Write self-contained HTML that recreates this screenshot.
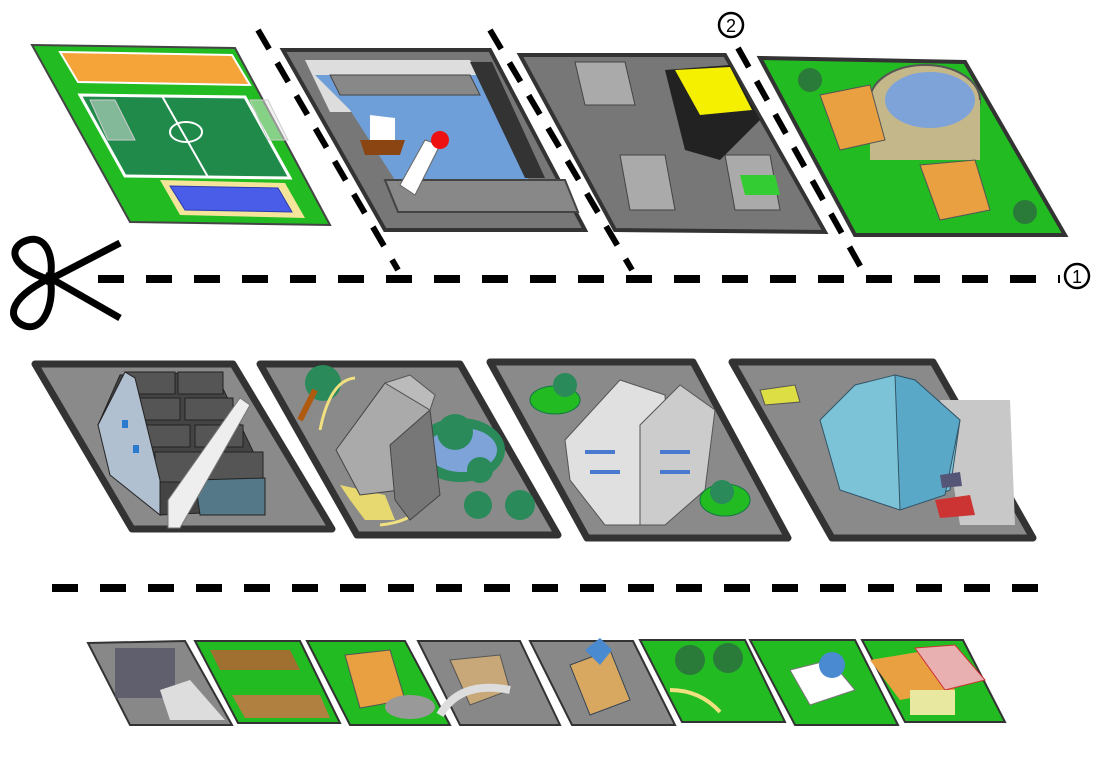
<!DOCTYPE html>
<html><head><meta charset="utf-8"><style>
html,body{margin:0;padding:0;background:#fff;}
svg{display:block}
</style></head><body>
<svg width="1100" height="765" viewBox="0 0 1100 765" xmlns="http://www.w3.org/2000/svg" font-family="Liberation Sans, sans-serif">
<!-- ===== TOP ROW ===== -->
<polygon points="32,45 235,48 330,225 130,222" fill="#22bb22" stroke="#444" stroke-width="2"/>
<polygon points="60,52 232,55 250,85 78,82" fill="#f5a43a" stroke="#fff" stroke-width="2"/>
<polygon points="80,95 245,97 290,178 125,176" fill="#1f8a4a" stroke="#fff" stroke-width="3"/>
<line x1="162" y1="96" x2="208" y2="177" stroke="#fff" stroke-width="2"/>
<ellipse cx="186" cy="132" rx="16" ry="10" fill="none" stroke="#fff" stroke-width="2"/>
<polygon points="90,100 115,100 135,140 108,140" fill="#e8e8e8" fill-opacity=".5" stroke="#ccc"/>
<polygon points="250,100 268,100 288,140 268,140" fill="#e8e8e8" fill-opacity=".5" stroke="#ccc"/>
<polygon points="160,180 285,183 305,218 180,215" fill="#f5e59a"/>
<polygon points="170,186 278,188 292,212 185,210" fill="#4a5de8" stroke="#2a3ab0"/>
<!-- tile 2 port -->
<polygon points="283,50 490,50 585,230 385,230" fill="#777" stroke="#333" stroke-width="4"/>
<polygon points="305,60 470,60 500,112 330,112" fill="#ddd"/>
<polygon points="315,75 480,75 520,150 530,185 420,185 395,180 350,110" fill="#6f9fd8"/>
<polygon points="330,75 470,75 480,95 340,95" fill="#888" stroke="#444"/>
<polygon points="385,180 565,180 578,212 398,212" fill="#888" stroke="#444" stroke-width="2"/>
<polygon points="470,62 492,62 545,178 525,178" fill="#333"/>
<polygon points="360,140 405,140 400,155 365,155" fill="#8b4513"/>
<polygon points="370,115 395,118 395,140 370,140" fill="#fff"/>
<polygon points="400,185 425,140 440,145 415,195" fill="#fff" stroke="#666"/>
<circle cx="440" cy="140" r="9" fill="#e11"/>
<!-- tile 3 recycling -->
<polygon points="520,55 725,55 825,232 615,230" fill="#777" stroke="#333" stroke-width="4"/>
<polygon points="575,62 625,62 635,105 585,105" fill="#aaa" stroke="#444"/>
<polygon points="620,155 665,155 675,210 630,210" fill="#aaa" stroke="#444"/>
<polygon points="725,155 770,155 780,210 735,210" fill="#aaa" stroke="#444"/>
<polygon points="740,175 775,175 780,195 745,195" fill="#3c3"/>
<polygon points="665,70 730,65 760,120 720,160 685,150" fill="#222"/>
<polygon points="675,70 730,67 752,110 700,115" fill="#f4f000"/>
<!-- tile 4 -->
<polygon points="760,58 965,62 1065,235 855,235" fill="#22bb22" stroke="#333" stroke-width="4"/>
<ellipse cx="925" cy="100" rx="55" ry="35" fill="#c4b88a" stroke="#555" stroke-width="2"/>
<rect x="870" y="100" width="110" height="60" fill="#c4b88a"/>
<ellipse cx="930" cy="100" rx="45" ry="28" fill="#7ea3d8"/>
<polygon points="820,95 870,85 885,140 840,150" fill="#e8a040" stroke="#555"/>
<polygon points="920,165 975,160 990,210 940,220" fill="#e8a040" stroke="#555"/>
<circle cx="810" cy="80" r="12" fill="#2a7a3a"/>
<circle cx="1025" cy="212" r="12" fill="#2a7a3a"/>

<g stroke="#000" stroke-width="6" stroke-dasharray="22,16" fill="none">
<line x1="258" y1="30" x2="398" y2="270"/>
<line x1="490" y1="30" x2="632" y2="270"/>
<line x1="738" y1="48" x2="868" y2="280"/>
</g>
<line x1="98" y1="279" x2="1060" y2="279" stroke="#000" stroke-width="8" stroke-dasharray="26,22"/>
<circle cx="1077" cy="276" r="12" fill="#fff" stroke="#000" stroke-width="2.5"/>
<text x="1077" y="283" font-size="18" text-anchor="middle">1</text>
<circle cx="731" cy="25" r="12" fill="#fff" stroke="#000" stroke-width="2.5"/>
<text x="731" y="32" font-size="18" text-anchor="middle">2</text>
<g stroke="#000" stroke-width="7" fill="none">
<line x1="45" y1="282" x2="120" y2="243"/>
<line x1="45" y1="275" x2="120" y2="318"/>
<path d="M50,280 C55,255 45,235 28,240 C10,245 5,265 50,280"/>
<path d="M50,278 C55,300 45,332 25,326 C8,320 5,300 50,278"/>
</g>

<!-- ===== MIDDLE ROW ===== -->
<g stroke="#333" stroke-width="7" fill="#8a8a8a" stroke-linejoin="round">
<polygon points="35,364 233,364 332,529 132,529"/>
<polygon points="260,364 460,364 558,535 357,535"/>
<polygon points="490,362 693,362 788,538 587,538"/>
<polygon points="732,362 933,362 1033,538 832,538"/>
</g>
<!-- A factory -->
<polygon points="120,375 215,372 262,470 265,510 160,515 98,425" fill="#444" stroke="#222"/>
<g fill="#555" stroke="#222">
<rect x="125" y="372" width="50" height="22"/><rect x="178" y="372" width="45" height="22"/>
<rect x="132" y="398" width="48" height="22"/><rect x="185" y="398" width="48" height="22"/>
<rect x="142" y="425" width="48" height="22"/><rect x="195" y="425" width="48" height="22"/>
<rect x="155" y="452" width="48" height="30"/><rect x="205" y="452" width="58" height="30"/>
</g>
<polygon points="98,425 125,372 135,378 160,480 160,515 110,475" fill="#b0c0d0" stroke="#222"/>
<rect x="122" y="420" width="6" height="8" fill="#2a7ad0"/><rect x="133" y="445" width="6" height="8" fill="#2a7ad0"/>
<polygon points="195,480 265,478 265,515 200,515" fill="#557888" stroke="#222"/>
<polygon points="168,500 240,398 250,405 180,528 168,528" fill="#eee" stroke="#777"/>
<!-- B -->
<circle cx="323" cy="383" r="18" fill="#2a8a5a"/>
<path d="M300,420 L315,390" stroke="#b05a10" stroke-width="6"/>
<ellipse cx="460" cy="450" rx="45" ry="32" fill="#2a8a5a"/>
<ellipse cx="462" cy="450" rx="35" ry="22" fill="#7ea3d8"/>
<circle cx="455" cy="432" r="18" fill="#2a8a5a"/>
<circle cx="480" cy="470" r="13" fill="#2a8a5a"/>
<circle cx="520" cy="505" r="15" fill="#2a8a5a"/>
<circle cx="478" cy="505" r="14" fill="#2a8a5a"/>
<path d="M320,430 Q330,380 355,378 M430,480 Q430,520 380,525" stroke="#f0e080" stroke-width="3" fill="none"/>
<polygon points="340,485 350,500 365,520 395,520 385,495" fill="#e8d870"/>
<polygon points="336,450 385,383 430,410 400,490 360,495" fill="#aaa" stroke="#444"/>
<polygon points="390,445 430,410 440,495 410,520 395,500" fill="#777" stroke="#444"/>
<polygon points="385,383 410,375 435,395 430,410" fill="#bbb" stroke="#555"/>
<!-- C -->
<ellipse cx="555" cy="400" rx="25" ry="14" fill="#22bb22" stroke="#174"/>
<circle cx="565" cy="385" r="12" fill="#2a8a5a"/>
<polygon points="565,440 620,380 665,395 670,485 640,525 605,525 570,480" fill="#e0e0e0" stroke="#555"/>
<polygon points="640,425 680,385 715,410 705,490 665,525 640,525" fill="#ccc" stroke="#555"/>
<g fill="#4a7ad0"><rect x="585" y="450" width="30" height="4"/><rect x="590" y="470" width="30" height="4"/><rect x="660" y="450" width="30" height="4"/><rect x="660" y="470" width="30" height="4"/></g>
<ellipse cx="725" cy="500" rx="25" ry="16" fill="#22bb22" stroke="#174"/>
<circle cx="722" cy="492" r="12" fill="#2a8a5a"/>
<!-- D -->
<polygon points="940,400 1010,400 1015,525 960,525" fill="#c8c8c8"/>
<polygon points="820,420 855,385 895,375 915,380 960,420 950,490 900,510 840,490" fill="#7cc3d8" stroke="#356"/>
<polygon points="895,375 915,380 960,420 945,495 900,510" fill="#5aa8c8" stroke="#356"/>
<polygon points="760,390 795,385 800,402 765,405" fill="#dddd44" stroke="#555"/>
<polygon points="935,500 970,495 975,515 940,518" fill="#c33"/>
<polygon points="940,475 960,472 962,486 942,488" fill="#557"/>

<line x1="52" y1="588" x2="1060" y2="588" stroke="#000" stroke-width="8" stroke-dasharray="26,22"/>

<!-- ===== BOTTOM ROW ===== -->
<g stroke="#333" stroke-width="2">
<polygon points="88,643 185,641 232,725 130,725" fill="#888"/>
<polygon points="195,641 300,641 340,723 238,723" fill="#22bb22"/>
<polygon points="307,641 405,641 450,725 350,725" fill="#22bb22"/>
<polygon points="418,641 520,641 560,725 460,725" fill="#888"/>
<polygon points="530,641 633,641 675,725 572,725" fill="#888"/>
<polygon points="640,640 745,640 785,722 682,722" fill="#22bb22"/>
<polygon points="750,640 855,640 898,725 795,725" fill="#22bb22"/>
<polygon points="862,640 963,640 1005,722 905,722" fill="#22bb22"/>
</g>
<g>
<rect x="115" y="648" width="60" height="50" fill="#556" opacity=".8"/>
<polygon points="160,690 190,680 225,720 170,720" fill="#ddd"/>
<polygon points="210,650 290,650 300,670 220,670" fill="#a07030"/>
<polygon points="232,695 320,695 330,718 245,718" fill="#b08040"/>
<polygon points="345,655 390,650 405,700 360,708" fill="#e8a040" stroke="#555"/>
<ellipse cx="410" cy="707" rx="25" ry="12" fill="#999"/>
<polygon points="450,660 500,655 510,690 470,705" fill="#c8a878" stroke="#555"/>
<path d="M440,715 Q460,680 510,690" stroke="#ddd" stroke-width="8" fill="none"/>
<polygon points="570,665 610,650 630,700 590,715" fill="#d8a860" stroke="#345"/>
<polygon points="585,650 600,638 612,650 600,665" fill="#4a8ad0"/>
<circle cx="690" cy="660" r="15" fill="#2a7a3a"/>
<circle cx="728" cy="658" r="15" fill="#2a7a3a"/>
<path d="M670,690 Q700,690 720,712" stroke="#f0e080" stroke-width="4" fill="none"/>
<polygon points="790,670 830,660 855,690 810,705" fill="#fff" stroke="#777"/>
<circle cx="832" cy="665" r="13" fill="#4a8ad0"/>
<polygon points="870,660 930,650 955,690 900,700" fill="#e8a040"/>
<polygon points="915,648 955,645 985,680 945,690" fill="#e8b0b0" stroke="#c33"/>
<rect x="910" y="690" width="45" height="25" fill="#e8e8a0"/>
</g>
</svg>
</body></html>
